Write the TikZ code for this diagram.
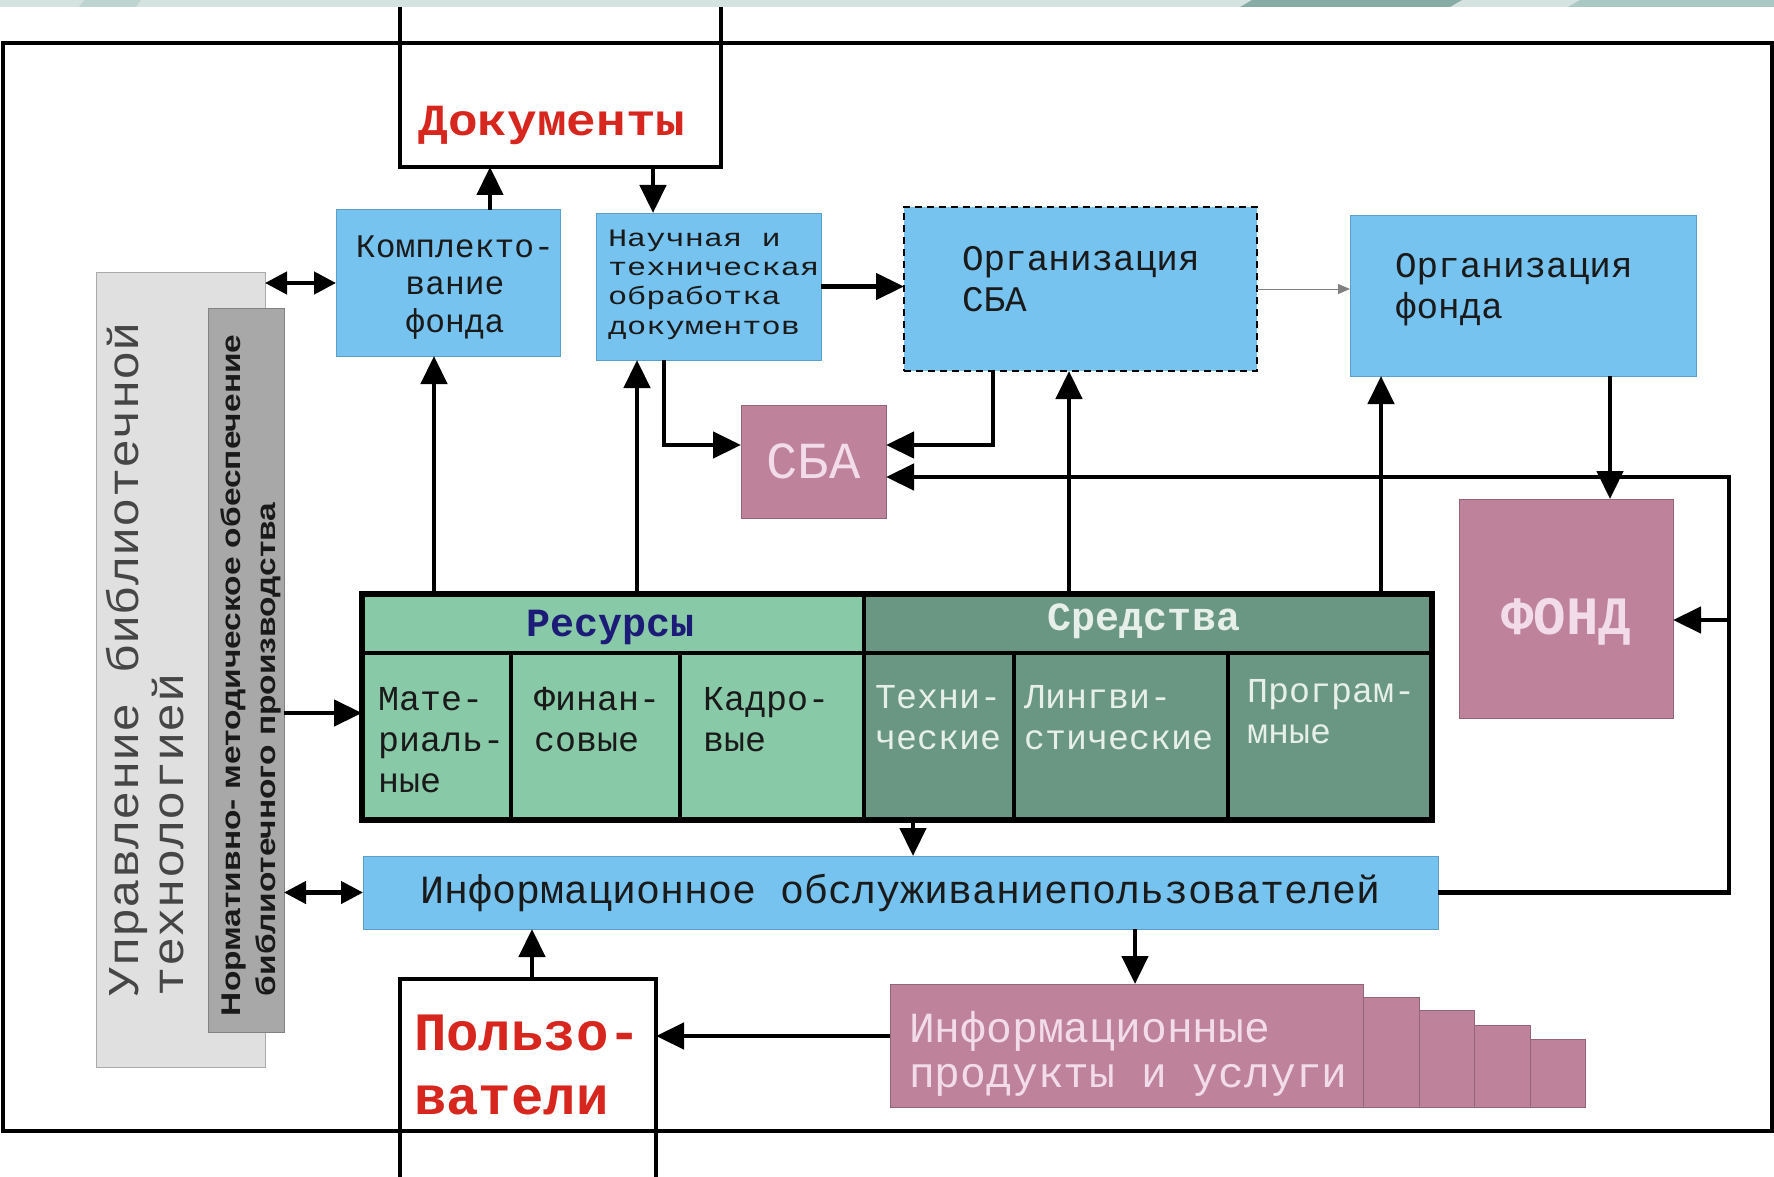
\documentclass[tikz,border=0pt]{standalone}
\usepackage{fontspec}
\setmainfont{Liberation Mono}
\newfontfamily\monowide[FakeStretch=1.28]{Liberation Mono}
\newfontfamily\monostretch[FakeStretch=1.11]{Liberation Mono}
\newfontfamily\sansfnt[FakeStretch=1.24]{Liberation Sans}
\usetikzlibrary{arrows.meta}
\definecolor{bluef}{RGB}{118,195,239}
\definecolor{bluebd}{RGB}{90,160,200}
\definecolor{mauvef}{RGB}{190,130,155}
\definecolor{mauvebd}{RGB}{150,100,120}
\definecolor{lgreen}{RGB}{136,201,167}
\definecolor{dgreen}{RGB}{106,150,132}
\definecolor{lgrey}{RGB}{224,224,224}
\definecolor{lgreybd}{RGB}{170,170,170}
\definecolor{dgrey}{RGB}{168,168,168}
\definecolor{dgreybd}{RGB}{130,130,130}
\definecolor{redtxt}{RGB}{215,38,30}
\definecolor{navytxt}{RGB}{28,28,120}
\definecolor{paletxt}{RGB}{230,239,233}
\definecolor{pinktxt}{RGB}{242,220,234}
\definecolor{greytxt}{RGB}{70,70,70}
\definecolor{darktxt}{RGB}{26,26,26}
\definecolor{bandc}{RGB}{213,227,224}
\definecolor{bandd}{RGB}{135,172,165}
\definecolor{bandm}{RGB}{170,200,196}
\definecolor{bandl}{RGB}{190,212,208}
\newcommand{\setfs}[1]{\fontsize{#1}{#1}\selectfont}
\tikzset{
  boxx/.style={anchor=north west, inner sep=0pt, outer sep=0pt},
  bluebox/.style={boxx, fill=bluef, draw=bluebd, line width=1pt},
  mauvebox/.style={boxx, fill=mauvef, draw=mauvebd, line width=0.8pt},
  cellL/.style={boxx, fill=lgreen, draw=black, line width=4.5pt},
  cellD/.style={boxx, fill=dgreen, draw=black, line width=4.5pt},
  txtL/.style={inner sep=0pt, outer sep=0pt, anchor=base west},
  txtC/.style={inner sep=0pt, outer sep=0pt, anchor=base},
  arr/.style={line width=4.5pt, -{Triangle[length=28pt,width=26pt]}},
  darr/.style={line width=4.5pt, {Triangle[length=22pt,width=22pt]}-{Triangle[length=22pt,width=22pt]}},
  thinarr/.style={line width=1pt, draw=gray, -{Triangle[length=12pt,width=10pt]}},
}
\begin{document}
\begin{tikzpicture}[x=1pt,y=-1pt]
\useasboundingbox (0,0) rectangle (1774,1177);
\fill[white] (0,0) rectangle (1774,1177);
% top band
\fill[bandc] (0,0) rectangle (1774,7);
\fill[bandl] (79,7) -- (84,0) -- (141,0) -- (136,7) -- cycle;
\fill[bandd] (1240,7) -- (1252,0) -- (1462,0) -- (1450,7) -- cycle;
\fill[bandm] (1568,7) -- (1580,0) -- (1774,0) -- (1774,7) -- cycle;

% left grey boxes
\node[boxx, fill=lgrey, draw=lgreybd, line width=1pt, minimum width=169pt, minimum height=795pt] (g1) at (96,272) {};
\node[boxx, fill=dgrey, draw=dgreybd, line width=1pt, minimum width=76pt, minimum height=724pt] (g2) at (208,308) {};
\node[txtL, rotate=90, font=\monostretch\setfs{44}, text=greytxt] (up1) at (138,996) {Управление библиотечной};
\node[txtL, rotate=90, font=\monostretch\setfs{44}, text=greytxt] (up2) at (183,996) {технологией};
\node[txtL, rotate=90, font=\sansfnt\bfseries\setfs{27}, text=darktxt] (nm1) at (240,1016) {Нормативно- методическое обеспечение};
\node[txtL, rotate=90, font=\sansfnt\bfseries\setfs{27}, text=darktxt] (nm2) at (275,996) {библиотечного производства};

% documents and users
\node[boxx, minimum width=321pt, minimum height=160pt] (docs) at (400,7) {};
\draw[line width=4pt] (docs.north west) -- (docs.south west) -- (docs.south east) -- (docs.north east);
\node[txtC, font=\monostretch\bfseries\setfs{44.5}, text=redtxt] (docst) at (552,136) {Документы};
\node[boxx, minimum width=256pt, minimum height=198pt] (users) at (400,979) {};
\draw[line width=4pt] (users.south west) -- (users.north west) -- (users.north east) -- (users.south east);
\node[txtL, font=\bfseries\setfs{54}, text=redtxt] (us1) at (414,1050) {Пользо-};
\node[txtL, font=\bfseries\setfs{54}, text=redtxt] (us2) at (414,1114) {ватели};

% frame
\draw[line width=4.5pt] (3,43) rectangle (1772,1131);

% top boxes
\node[bluebox, minimum width=224pt, minimum height=146pt] (komp) at (336,210) {};
\node[txtC, font=\setfs{33}, text=darktxt] (k1t) at (455,257) {Комплекто-};
\node[txtC, font=\setfs{33}, text=darktxt] (k2t) at (455,294) {вание};
\node[txtC, font=\setfs{33}, text=darktxt] (k3t) at (455,332) {фонда};

\node[bluebox, minimum width=225pt, minimum height=147pt] (nauch) at (596,213) {};
\node[txtL, font=\monowide\setfs{25}, text=darktxt] (n1t) at (608,246) {Научная и};
\node[txtL, font=\monowide\setfs{25}, text=darktxt] (n2t) at (608,275) {техническая};
\node[txtL, font=\monowide\setfs{25}, text=darktxt] (n3t) at (608,304) {обработка};
\node[txtL, font=\monowide\setfs{25}, text=darktxt] (n4t) at (608,334) {документов};

\node[boxx, fill=bluef, draw=black, line width=2.5pt, dash pattern=on 7pt off 5pt, minimum width=353pt, minimum height=164pt] (orgsba) at (904,207) {};
\node[txtL, font=\setfs{36}, text=darktxt] (os1) at (962,270) {Организация};
\node[txtL, font=\setfs{36}, text=darktxt] (os2) at (962,311) {СБА};

\node[bluebox, minimum width=346pt, minimum height=161pt] (orgf) at (1350,215) {};
\node[txtL, font=\setfs{36}, text=darktxt] (of1t) at (1395,277) {Организация};
\node[txtL, font=\setfs{36}, text=darktxt] (of2t) at (1395,318) {фонда};

\node[mauvebox, minimum width=145pt, minimum height=113pt, font=\setfs{52}, text=pinktxt] (sba) at (741,405) {СБА};
\node[mauvebox, minimum width=214pt, minimum height=219pt] (fond) at (1459,499) {};
\node[txtC, font=\bfseries\setfs{54}, text=pinktxt] (fondt) at (1566,634) {ФОНД};

% table
\node[cellL, minimum width=502pt, minimum height=59pt] (res) at (362,594) {};
\node[cellD, minimum width=568pt, minimum height=59pt] (sred) at (864,594) {};
\node[cellL, minimum width=149pt, minimum height=167pt] (c1) at (362,653) {};
\node[cellL, minimum width=169pt, minimum height=167pt] (c2) at (511,653) {};
\node[cellL, minimum width=184pt, minimum height=167pt] (c3) at (680,653) {};
\node[cellD, minimum width=150pt, minimum height=167pt] (c4) at (864,653) {};
\node[cellD, minimum width=214pt, minimum height=167pt] (c5) at (1014,653) {};
\node[cellD, minimum width=204pt, minimum height=167pt] (c6) at (1228,653) {};
\node[boxx, draw=black, line width=6pt, minimum width=1070pt, minimum height=226pt] (tbl) at (362,594) {};
\node[txtC, font=\bfseries\setfs{40}, text=navytxt] (rest) at (611,636) {Ресурсы};
\node[txtC, font=\bfseries\setfs{40}, text=paletxt] (sredt) at (1144,630) {Средства};
\node[txtL, font=\setfs{35}, text=darktxt] (c1a) at (378,710) {Мате-};
\node[txtL, font=\setfs{35}, text=darktxt] (c1b) at (378,751) {риаль-};
\node[txtL, font=\setfs{35}, text=darktxt] (c1c) at (378,792) {ные};
\node[txtL, font=\setfs{35}, text=darktxt] (c2a) at (534,710) {Финан-};
\node[txtL, font=\setfs{35}, text=darktxt] (c2b) at (534,751) {совые};
\node[txtL, font=\setfs{35}, text=darktxt] (c3a) at (703,710) {Кадро-};
\node[txtL, font=\setfs{35}, text=darktxt] (c3b) at (703,751) {вые};
\node[txtL, font=\setfs{35}, text=paletxt] (c4a) at (875,708) {Техни-};
\node[txtL, font=\setfs{35}, text=paletxt] (c4b) at (875,749) {ческие};
\node[txtL, font=\setfs{35}, text=paletxt] (c5a) at (1024,708) {Лингви-};
\node[txtL, font=\setfs{35}, text=paletxt] (c5b) at (1024,749) {стические};
\node[txtL, font=\setfs{35}, text=paletxt] (c6a) at (1247,702) {Програм-};
\node[txtL, font=\setfs{35}, text=paletxt] (c6b) at (1247,743) {мные};

% info service
\node[bluebox, minimum width=1075pt, minimum height=73pt, font=\setfs{40}, text=darktxt] (info) at (363,856) {Информационное обслуживаниепользователей};

% products
\node[mauvebox, minimum width=56pt, minimum height=110pt] (st1) at (1363,997) {};
\node[mauvebox, minimum width=55pt, minimum height=97pt] (st2) at (1419,1010) {};
\node[mauvebox, minimum width=56pt, minimum height=82pt] (st3) at (1474,1025) {};
\node[mauvebox, minimum width=55pt, minimum height=68pt] (st4) at (1530,1039) {};
\node[mauvebox, minimum width=473pt, minimum height=123pt] (prod) at (890,984) {};
\node[txtL, font=\setfs{43}, text=pinktxt] (pr1) at (909,1042) {Информационные};
\node[txtL, font=\setfs{43}, text=pinktxt] (pr2) at (909,1087) {продукты и услуги};

% connectors
\coordinate (ka) at ([xshift=42pt]komp.north);
\draw[arr] (ka) -- (ka |- docs.south);
\coordinate (na) at ([xshift=-55.5pt]nauch.north);
\draw[arr] (na |- docs.south) -- (na);
\draw[darr] (komp.west -| g1.east) -- (komp.west);
\draw[arr] (nauch.east) -- (nauch.east -| orgsba.west);
\draw[thinarr] (orgsba.east) -- (orgsba.east -| orgf.west);

\coordinate (nb) at ([xshift=-44.5pt]nauch.south);
\coordinate (s1) at ([yshift=16.5pt]sba.west);
\draw[arr] (nb) |- (s1);
\coordinate (ob) at ([xshift=-87.5pt]orgsba.south);
\coordinate (s2) at ([yshift=16.5pt]sba.east);
\draw[arr] (ob) |- (s2);

\coordinate (loopR) at (1729,477);
\coordinate (s3) at ([yshift=-15.5pt]sba.east);
\draw[arr] (info.east) -| (loopR) -- (s3);
\coordinate (f1) at ([yshift=-11.5pt]fond.east);
\draw[arr] (loopR |- f1) -- (f1);
\coordinate (ofb) at ([xshift=87pt]orgf.south);
\draw[arr] (ofb) -- (ofb |- fond.north);

\coordinate (kb) at ([xshift=-14pt]komp.south);
\draw[arr] (kb |- tbl.north) -- (kb);
\coordinate (nc) at ([xshift=-71.5pt]nauch.south);
\draw[arr] (nc |- tbl.north) -- (nc);
\coordinate (oc) at ([xshift=-11.5pt]orgsba.south);
\draw[arr] (oc |- tbl.north) -- (oc);
\coordinate (ofc) at ([xshift=-142pt]orgf.south);
\draw[arr] (ofc |- tbl.north) -- (ofc);

\coordinate (tw) at ([yshift=-6pt]tbl.west);
\draw[arr] (tw -| g2.east) -- (tw);
\draw[darr] (info.west -| g2.east) -- (info.west);
\coordinate (tb) at ([xshift=16pt]tbl.south);
\draw[arr] (tb) -- (tb |- info.north);
\coordinate (ua) at ([xshift=4pt]users.north);
\draw[arr] (ua) -- (ua |- info.south);
\coordinate (pa) at ([xshift=8.5pt]prod.north);
\draw[arr] (pa |- info.south) -- (pa);
\coordinate (pw) at ([yshift=9.5pt]prod.west);
\draw[arr] (pw) -- (pw -| users.east);
\end{tikzpicture}
\end{document}
